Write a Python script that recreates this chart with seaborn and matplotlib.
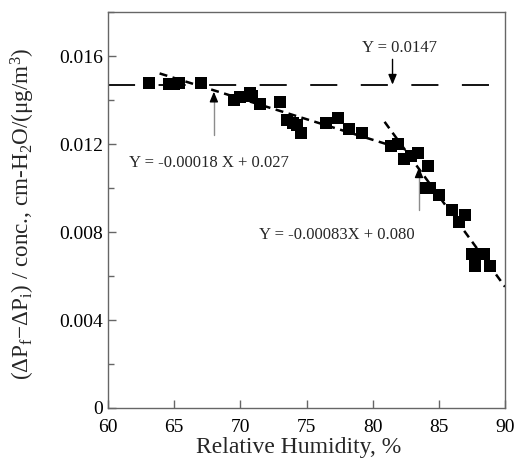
import matplotlib
matplotlib.use("Agg")
import matplotlib.pyplot as plt
import seaborn as sns
import pandas as pd
from matplotlib.ticker import MultipleLocator

# ---- data ----
rh = [63.1, 64.6, 65.0, 65.4, 67.0, 69.5, 70.0, 70.7, 70.9, 71.5, 73.0, 73.5,
      74.0, 74.3, 74.6, 76.5, 77.4, 78.2, 79.2, 81.4, 81.9, 82.4, 82.9, 83.4,
      84.2, 84.0, 84.3, 85.0, 86.0, 86.5, 87.0, 87.5, 87.7, 88.4, 88.9]
ratio = [0.01479, 0.01473, 0.01473, 0.01479, 0.01479, 0.01400, 0.01412, 0.01430,
         0.01418, 0.01380, 0.01390, 0.01309, 0.01297, 0.01286, 0.01249, 0.01297,
         0.01320, 0.01268, 0.01249, 0.01191, 0.01198, 0.01130, 0.01145, 0.01157,
         0.01100, 0.00998, 0.00998, 0.00970, 0.00900, 0.00847, 0.00877, 0.00699,
         0.00647, 0.00699, 0.00647]

plateau_x = [60, 90]
plateau_y = [0.0147, 0.0147]
fit1_x = [63.9, 81.3]
fit1_y = [0.01521, 0.01195]
fit2_x = [80.9, 90.0]
fit2_y = [0.01301, 0.00551]

x_ticks = [60, 65, 70, 75, 80, 85, 90]
y_ticks = [0, 0.004, 0.008, 0.012, 0.016]
y_tick_labels = ["0", "0.004", "0.008", "0.012", "0.016"]

label_plateau = "Y = 0.0147"
label_fit1 = "Y = -0.00018 X + 0.027"
label_fit2 = "Y = -0.00083X + 0.080"

# ---- style ----
sns.set_style("ticks")
plt.rcParams['font.family'] = ['Liberation Serif', 'DejaVu Serif']
plt.rcParams['mathtext.fontset'] = 'custom'
plt.rcParams['mathtext.rm'] = 'Liberation Serif'
plt.rcParams['mathtext.it'] = 'Liberation Serif:italic'

fig = plt.figure(figsize=(5.16, 4.62), dpi=100)
ax = fig.add_axes([0.2093, 0.1169, 0.7694, 0.857])

df = pd.DataFrame({"rh": rh, "ratio": ratio})
sns.scatterplot(data=df, x="rh", y="ratio", marker="s", s=78, color="black",
                edgecolor="black", linewidth=0, ax=ax, zorder=3)

ax.plot(plateau_x, plateau_y, color="black", lw=1.3, dashes=(15, 13), zorder=2)
ax.plot(fit1_x, fit1_y, color="black", lw=1.8, dashes=(3.2, 2.2), zorder=2)
ax.plot(fit2_x, fit2_y, color="black", lw=1.8, dashes=(3.2, 2.2), zorder=2)

# plateau arrow
ax.annotate("", xy=(81.5, 0.0147), xytext=(81.5, 0.01585),
            arrowprops=dict(arrowstyle="-|>,head_length=0.6,head_width=0.25",
                            color="black", lw=1.0, shrinkA=0, shrinkB=0))
ax.text(82.0, 0.01635, label_plateau, ha="center", va="center", fontsize=12)

# fit1 arrow (gray shaft, black head)
ax.plot([68.0, 68.0], [0.01241, 0.0142], color="0.55", lw=1.0)
ax.annotate("", xy=(68.0, 0.01438), xytext=(68.0, 0.0141),
            arrowprops=dict(arrowstyle="-|>,head_length=0.6,head_width=0.25",
                            color="black", lw=1.0, shrinkA=0, shrinkB=0))
ax.text(67.6, 0.01113, label_fit1, ha="center", va="center", fontsize=12)

# fit2 arrow
ax.plot([83.5, 83.5], [0.0090, 0.0108], color="0.55", lw=1.0)
ax.annotate("", xy=(83.5, 0.01094), xytext=(83.5, 0.01066),
            arrowprops=dict(arrowstyle="-|>,head_length=0.6,head_width=0.25",
                            color="black", lw=1.0, shrinkA=0, shrinkB=0))
ax.text(77.3, 0.00785, label_fit2, ha="center", va="center", fontsize=12)

ax.set_xlim(60, 90)
ax.set_ylim(0, 0.018)
ax.set_xticks(x_ticks)
ax.set_xticklabels([str(t) for t in x_ticks])
ax.set_yticks(y_ticks)
ax.set_yticklabels(y_tick_labels)
ax.yaxis.set_minor_locator(MultipleLocator(0.002))

for sp in ax.spines.values():
    sp.set_visible(True)
    sp.set_color("0.4")
    sp.set_linewidth(1.0)
ax.tick_params(axis="both", which="major", direction="in", length=6,
               width=1.0, color="0.4", labelsize=14, colors="black")
ax.tick_params(axis="x", which="major", pad=8)
ax.tick_params(axis="y", which="minor", direction="in", length=4,
               width=1.0, color="0.4")
for lab in ax.get_yticklabels():
    lab.set_color("black")

ax.set_xlabel("Relative Humidity, %", fontsize=17, labelpad=1)
ax.xaxis.label.set_x(0.479)
ax.set_ylabel(r"(ΔP$_\mathrm{f}$−ΔP$_\mathrm{i}$) / conc., cm-H$_2$O/(μg/m$^3$)",
              fontsize=16.7, labelpad=16)
ax.yaxis.label.set_y(0.49)

fig.savefig("out.png", dpi=100)
